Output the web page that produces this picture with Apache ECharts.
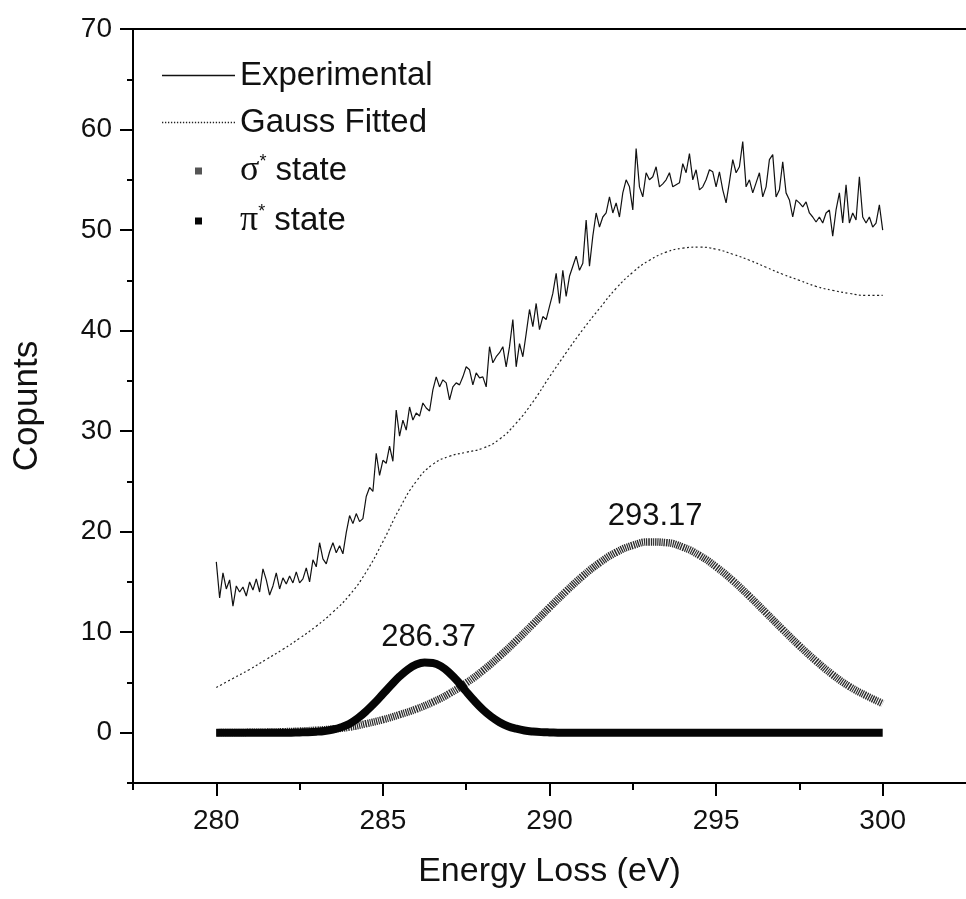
<!DOCTYPE html>
<html>
<head>
<meta charset="utf-8">
<script src="https://cdn.jsdelivr.net/npm/echarts@6/dist/echarts.min.js"></script>
<style>html,body{margin:0;padding:0;background:#fff}#chart{width:966px;height:899px}</style>
</head>
<body>
<div id="chart"></div>
<script>
// ---------- data ----------
const seriesNames = ['Experimental', 'Gauss Fitted', 'σ* state', 'π* state'];

const expEnergy = [
280.0,280.1,280.2,280.3,280.4,280.5,280.6,280.7,280.8,280.9,
281.0,281.1,281.2,281.3,281.4,281.5,281.6,281.7,281.8,281.9,
282.0,282.1,282.2,282.3,282.4,282.5,282.6,282.7,282.8,282.9,
283.0,283.1,283.2,283.3,283.4,283.5,283.6,283.7,283.8,283.9,
284.0,284.1,284.2,284.3,284.4,284.5,284.6,284.7,284.8,284.9,
285.0,285.1,285.2,285.3,285.4,285.5,285.6,285.7,285.8,285.9,
286.0,286.1,286.2,286.3,286.4,286.5,286.6,286.7,286.8,286.9,
287.0,287.1,287.2,287.3,287.4,287.5,287.6,287.7,287.8,287.9,
288.0,288.1,288.2,288.3,288.4,288.5,288.6,288.7,288.8,288.9,
289.0,289.1,289.2,289.3,289.4,289.5,289.6,289.7,289.8,289.9,
290.0,290.1,290.2,290.3,290.4,290.5,290.6,290.7,290.8,290.9,
291.0,291.1,291.2,291.3,291.4,291.5,291.6,291.7,291.8,291.9,
292.0,292.1,292.2,292.3,292.4,292.5,292.6,292.7,292.8,292.9,
293.0,293.1,293.2,293.3,293.4,293.5,293.6,293.7,293.8,293.9,
294.0,294.1,294.2,294.3,294.4,294.5,294.6,294.7,294.8,294.9,
295.0,295.1,295.2,295.3,295.4,295.5,295.6,295.7,295.8,295.9,
296.0,296.1,296.2,296.3,296.4,296.5,296.6,296.7,296.8,296.9,
297.0,297.1,297.2,297.3,297.4,297.5,297.6,297.7,297.8,297.9,
298.0,298.1,298.2,298.3,298.4,298.5,298.6,298.7,298.8,298.9,
299.0,299.1,299.2,299.3,299.4,299.5,299.6,299.7,299.8,299.9,
300.0];

const expCounts = [
17.0,13.4,15.9,14.3,15.2,12.6,14.6,14.0,14.5,13.6,
15.0,14.2,15.3,14.0,16.3,15.2,13.7,14.6,15.9,14.3,
15.4,14.8,15.6,14.9,16.0,14.9,15.3,16.4,15.0,17.2,
16.5,18.9,17.3,16.8,18.0,18.9,17.9,18.6,17.8,19.9,
21.6,20.8,21.8,21.0,21.3,23.5,24.4,24.0,27.8,25.6,
27.1,26.8,28.5,27.0,32.1,29.5,31.1,30.1,32.4,31.1,
31.8,31.5,32.8,32.3,32.0,34.1,35.4,34.4,35.1,34.8,
33.1,34.4,34.8,34.6,35.4,36.4,36.1,34.6,35.8,35.3,
35.4,34.4,38.4,36.8,37.4,37.8,38.4,36.4,38.4,41.1,
36.4,38.7,37.4,39.7,42.1,40.4,42.7,40.1,41.4,41.1,
42.4,43.7,45.7,42.7,46.0,43.4,45.4,46.4,47.4,46.0,
46.7,51.0,46.4,49.4,51.7,50.3,51.3,51.7,53.3,51.7,
52.7,51.3,53.7,55.0,54.3,52.0,58.1,54.3,53.3,55.7,
55.0,55.3,56.3,54.3,54.6,55.0,55.7,54.3,54.5,54.7,
56.6,55.7,57.6,55.0,56.0,54.0,54.3,55.0,56.0,55.8,
54.3,55.8,54.0,52.7,54.8,57.0,55.7,56.3,58.8,54.3,
55.0,53.7,54.7,55.7,53.3,54.3,57.0,57.5,53.3,54.0,
56.8,53.7,53.0,51.3,53.0,52.7,52.3,52.8,51.7,51.3,
50.8,51.3,50.7,51.7,52.0,49.4,52.0,53.7,50.7,54.5,
50.7,51.7,51.0,55.3,51.3,50.7,51.3,50.3,50.7,52.5,
50.0];

const fitEnergy = [
280.0,280.5,281.0,281.5,282.0,282.5,283.0,283.5,284.0,284.5,
285.0,285.5,286.0,286.5,287.0,287.5,288.0,288.5,289.0,289.5,
290.0,290.5,291.0,291.5,292.0,292.5,293.0,293.5,294.0,294.5,
295.0,295.5,296.0,296.5,297.0,297.5,298.0,298.5,299.0,299.5,
300.0];

const fitCounts = [
4.5,5.4,6.3,7.3,8.3,9.4,10.6,12.0,13.7,16.0,
19.0,22.3,25.0,26.7,27.5,27.9,28.3,29.2,30.8,32.9,
35.4,37.8,40.1,42.2,44.2,45.8,47.0,47.8,48.2,48.3,
48.1,47.6,47.0,46.3,45.6,45.0,44.4,44.0,43.7,43.5,
43.5];

const sigmaEnergy = [
280.0,280.5,281.0,281.5,282.0,282.5,283.0,283.5,284.0,284.5,
285.0,285.5,286.0,286.5,287.0,287.5,288.0,288.5,289.0,289.5,
290.0,290.5,291.0,291.5,292.0,292.5,293.0,293.5,294.0,294.5,
295.0,295.5,296.0,296.5,297.0,297.5,298.0,298.5,299.0,299.5,
300.0];

const sigmaCounts = [
0.01,0.02,0.04,0.06,0.10,0.16,0.25,0.37,0.56,0.90,
1.30,1.80,2.35,3.05,3.90,4.95,6.18,7.60,9.15,10.79,
12.46,14.08,15.59,16.90,17.94,18.64,18.98,18.91,18.46,17.64,
16.50,15.13,13.57,11.92,10.26,8.64,7.13,5.76,4.60,3.70,
2.90];

const piEnergy = [
280.00,280.25,280.50,280.75,281.00,281.25,281.50,281.75,282.00,282.25,
282.50,282.75,283.00,283.25,283.50,283.75,284.00,284.25,284.50,284.75,
285.00,285.25,285.50,285.75,286.00,286.25,286.50,286.75,287.00,287.25,
287.50,287.75,288.00,288.25,288.50,288.75,289.00,289.25,289.50,289.75,
290.00,290.25,290.50,290.75,291.00,291.25,291.50,291.75,292.00,292.25,
292.50,292.75,293.00,293.25,293.50,293.75,294.00,294.25,294.50,294.75,
295.00,295.25,295.50,295.75,296.00,296.25,296.50,296.75,297.00,297.25,
297.50,297.75,298.00,298.25,298.50,298.75,299.00,299.25,299.50,299.75,
300.00];

const piCounts = [
0,0,0,0,0,0,0,0,0,0.01,
0.03,0.05,0.10,0.18,0.32,0.55,0.90,1.45,2.15,2.95,
3.85,4.75,5.60,6.30,6.78,6.98,6.94,6.60,5.95,5.10,
4.10,3.15,2.30,1.60,1.05,0.65,0.40,0.22,0.12,0.06,
0.03,0.01,0,0,0,0,0,0,0,0,
0,0,0,0,0,0,0,0,0,0,
0,0,0,0,0,0,0,0,0,0,
0,0,0,0,0,0,0,0,0,0,
0];

const peakEnergy = [286.37, 293.17];
const peakCounts = [6.97, 18.98];
const peakLabels = ['286.37', '293.17'];

const xTickValues = [280, 285, 290, 295, 300];
const xMinorTickValues = [277.5, 282.5, 287.5, 292.5, 297.5];
const yTickValues = [0, 10, 20, 30, 40, 50, 60, 70];
const yMinorTickValues = [-5, 5, 15, 25, 35, 45, 55, 65];

// ---------- chart ----------
const FONT = '"Liberation Sans", Arial, sans-serif';
const pairs = (xs, ys) => xs.map((x, i) => [x, ys[i]]);

let dotPath = '';
for (let i = 0; i < 73; i += 3) dotPath += 'M' + i + ',0h1.3v1.3h-1.3z';

const chart = echarts.init(document.getElementById('chart'), null, {renderer: 'canvas'});

const axisLineStyle = {color: '#000', width: 2};
const xRange = {min: 277.5, max: 302.5};
const yRange = {min: -5, max: 70};

chart.setOption({
  backgroundColor: '#ffffff',
  animation: false,
  grid: {left: 133, right: -7, top: 29, bottom: 116},
  legend: {
    orient: 'vertical',
    left: 157,
    top: 54,
    itemWidth: 73,
    itemHeight: 7,
    itemGap: 14,
    selectedMode: false,
    symbolKeepAspect: true,
    data: [
      {name: seriesNames[0], icon: 'path://M0,0H73V1.3H0Z'},
      {name: seriesNames[1], icon: 'path://' + dotPath},
      {name: seriesNames[2], icon: 'path://M0,0H10V10H0Z'},
      {name: seriesNames[3], icon: 'path://M0,0H10V10H0Z'}
    ],
    formatter: function (name) {
      if (name === seriesNames[2]) return '{g|σ}{s|*}{t| state}';
      if (name === seriesNames[3]) return '{g|π}{s|*}{t| state}';
      return '{t|' + name + '}';
    },
    textStyle: {
      color: '#111',
      fontFamily: FONT,
      fontSize: 33,
      rich: {
        t: {fontFamily: FONT, fontSize: 33, lineHeight: 36, color: '#111'},
        g: {fontFamily: '"Liberation Serif", "Times New Roman", serif', fontSize: 36, lineHeight: 36, color: '#111'},
        s: {fontFamily: FONT, fontSize: 18, verticalAlign: 'top', color: '#111'}
      }
    }
  },
  xAxis: [
    {
      type: 'value', position: 'bottom', ...xRange,
      axisLine: {show: true, onZero: false, lineStyle: axisLineStyle},
      axisTick: {show: true, customValues: xTickValues, length: 13, lineStyle: {color: '#000', width: 2}},
      axisLabel: {customValues: xTickValues, fontSize: 28, fontFamily: FONT, color: '#111', margin: 24},
      splitLine: {show: false},
      name: 'Energy Loss (eV)', nameLocation: 'middle', nameGap: 72,
      nameTextStyle: {fontSize: 34, fontFamily: FONT, color: '#111'}
    },
    {
      type: 'value', position: 'bottom', ...xRange,
      axisLine: {show: false, onZero: false},
      axisTick: {show: true, customValues: xMinorTickValues, length: 7, lineStyle: {color: '#000', width: 2}},
      axisLabel: {show: false},
      splitLine: {show: false}
    },
    {
      type: 'value', position: 'top', ...xRange,
      axisLine: {show: true, onZero: false, lineStyle: axisLineStyle},
      axisTick: {show: false},
      axisLabel: {show: false},
      splitLine: {show: false}
    }
  ],
  yAxis: [
    {
      type: 'value', position: 'left', ...yRange,
      axisLine: {show: true, onZero: false, lineStyle: axisLineStyle},
      axisTick: {show: true, customValues: yTickValues, length: 13, lineStyle: {color: '#000', width: 2}},
      axisLabel: {customValues: yTickValues, fontSize: 28, fontFamily: FONT, color: '#111', margin: 21},
      splitLine: {show: false},
      name: 'Copunts', nameLocation: 'middle', nameGap: 88,
      nameTextStyle: {fontSize: 35, fontFamily: FONT, color: '#111'}
    },
    {
      type: 'value', position: 'left', ...yRange,
      axisLine: {show: false, onZero: false},
      axisTick: {show: true, customValues: yMinorTickValues, length: 6, lineStyle: {color: '#000', width: 2}},
      axisLabel: {show: false},
      splitLine: {show: false}
    }
  ],
  series: [
    {
      name: seriesNames[0], type: 'line', xAxisIndex: 0, yAxisIndex: 0,
      data: pairs(expEnergy, expCounts),
      symbol: 'none', color: '#111',
      lineStyle: {color: '#111', width: 1.2},
      z: 3
    },
    {
      name: seriesNames[1], type: 'line', xAxisIndex: 0, yAxisIndex: 0,
      data: pairs(fitEnergy, fitCounts),
      symbol: 'none', smooth: true, color: '#222',
      lineStyle: {color: '#222', width: 1.2, type: [2, 2.5]},
      z: 3
    },
    {
      name: seriesNames[2], type: 'line', xAxisIndex: 0, yAxisIndex: 0,
      data: pairs(sigmaEnergy, sigmaCounts),
      symbol: 'none', smooth: true, color: '#555',
      lineStyle: {color: '#2c2c2c', width: 7.5, type: [1.3, 0.9]},
      markPoint: {
        symbol: 'circle', symbolSize: 0,
        data: [{coord: [peakEnergy[1], peakCounts[1]], name: peakLabels[1], value: peakLabels[1]}],
        label: {show: true, position: 'top', distance: 10, formatter: '{b}', fontSize: 31, fontFamily: FONT, color: '#111'}
      },
      z: 4
    },
    {
      name: seriesNames[3], type: 'line', xAxisIndex: 0, yAxisIndex: 0,
      data: pairs(piEnergy, piCounts),
      symbol: 'none', smooth: 0.4, color: '#050505',
      lineStyle: {color: '#050505', width: 8, join: 'round'},
      markPoint: {
        symbol: 'circle', symbolSize: 0,
        data: [{coord: [peakEnergy[0], peakCounts[0]], name: peakLabels[0], value: peakLabels[0]}],
        label: {show: true, position: 'top', distance: 10, formatter: '{b}', fontSize: 31, fontFamily: FONT, color: '#111'}
      },
      z: 5
    }
  ]
});
</script>
</body>
</html>
